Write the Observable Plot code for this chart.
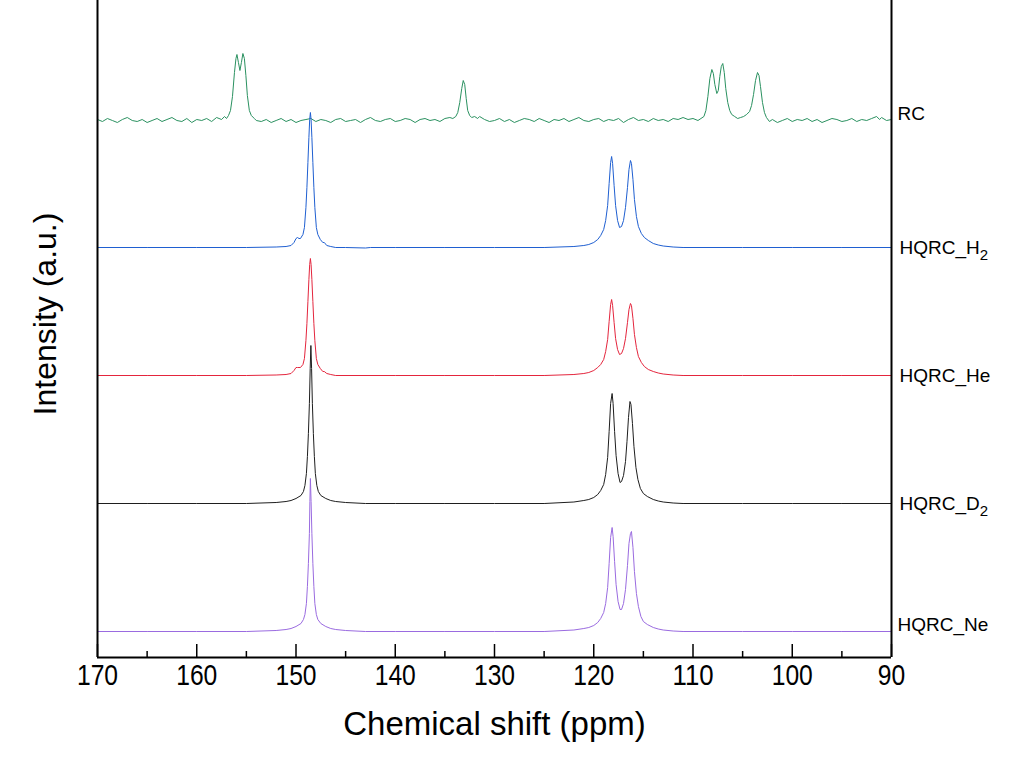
<!DOCTYPE html>
<html><head><meta charset="utf-8">
<script src="https://cdn.jsdelivr.net/npm/d3@7"></script>
<script src="https://cdn.jsdelivr.net/npm/@observablehq/plot@0.6"></script>
<style>body{margin:0;background:#fff} #chart{width:1028px;height:777px}</style>
</head><body><div id="chart"></div>
<script>
// Series (top to bottom)
const seriesNames = ["RC", "HQRC_H₂", "HQRC_He", "HQRC_D₂", "HQRC_Ne"];
const seriesColors = ["#2a9160", "#1f5fd1", "#e4253d", "#1e1e1e", "#9a6be0"];
const baselineOffsets = [537, 410, 282, 154, 26];

// [ppm, relative intensity]
const rcSpectrum = [[170,1],[169.5,-1],[169,2],[168.5,0],[168,-2],[167.5,1],[167,3],[166.5,0],[166,-1],[165.5,1],[165,-2],[164.5,0],[164,2],[163.5,-1],[163,1],[162.5,3],[162,0],[161.5,-1],[161,2],[160.5,-2],[160,1],[159.5,0],[159,2],[158.5,-1],[158,3],[157.5,1],[157.2,4],[157,2],[156.8,5],[156.6,10],[156.4,24],[156.2,48],[156.05,62],[155.95,66],[155.8,58],[155.65,50],[155.5,58],[155.35,67],[155.2,62],[155.05,45],[154.9,25],[154.7,10],[154.5,5],[154.2,2],[154,0],[153.5,-1],[153,1],[152.5,-2],[152,0],[151.5,2],[151,-1],[150.5,1],[150,-2],[149.5,0],[149,1],[148.5,2],[148,-1],[147.5,1],[147,0],[146.5,-2],[146,1],[145.5,2],[145,-1],[144.5,0],[144,1],[143.5,-2],[143,1],[142.5,3],[142,0],[141.5,-1],[141,1],[140.5,2],[140,-1],[139.5,0],[139,2],[138.5,1],[138,-2],[137.5,1],[137,2],[136.5,0],[136,1],[135.5,-1],[135,2],[134.5,3],[134.2,2],[133.9,4],[133.7,8],[133.5,18],[133.3,32],[133.15,40],[133,36],[132.85,22],[132.7,10],[132.5,5],[132.3,3],[132,4],[131.7,2],[131.5,4],[131,1],[130.5,-1],[130,0],[129.5,2],[129,-1],[128.5,1],[128,-2],[127.5,0],[127,2],[126.5,1],[126,-1],[125.5,2],[125,0],[124.5,-2],[124,1],[123.5,0],[123,2],[122.5,-1],[122,1],[121.5,3],[121,0],[120.5,-1],[120,1],[119.5,2],[119,-1],[118.5,1],[118,0],[117.5,2],[117,-2],[116.5,1],[116,3],[115.5,0],[115,1],[114.5,-1],[114,2],[113.5,0],[113,1],[112.5,-1],[112,2],[111.5,1],[111,3],[110.5,1],[110,2],[109.5,0],[109.2,2],[108.9,4],[108.7,10],[108.5,24],[108.3,42],[108.1,51],[107.95,47],[107.8,36],[107.6,27],[107.45,30],[107.3,44],[107.15,54],[107,57],[106.85,48],[106.7,32],[106.5,18],[106.3,10],[106.1,6],[105.8,4],[105.5,2],[105.2,3],[104.9,4],[104.6,6],[104.3,9],[104.1,15],[103.9,26],[103.7,40],[103.5,48],[103.35,45],[103.2,34],[103,18],[102.8,8],[102.6,3],[102.3,-1],[102,1],[101.5,-2],[101,0],[100.5,2],[100,-1],[99.5,1],[99,0],[98.5,2],[98,-1],[97.5,1],[97,-2],[96.5,0],[96,2],[95.5,1],[95,-1],[94.5,0],[94,2],[93.5,-1],[93,1],[92.5,0],[92,2],[91.5,4],[91.2,1],[91,3],[90.5,0],[90,1]];

const h2Spectrum = [[170,0],[165,0],[160,0],[155,0],[152,0.5],[151,1],[150.5,2],[150.2,5],[150,9],[149.85,10],[149.7,9],[149.55,9],[149.3,13],[149.15,20],[149,40],[148.9,60],[148.8,85],[148.7,110],[148.62,128],[148.55,135],[148.48,128],[148.4,110],[148.3,85],[148.2,60],[148.1,40],[147.95,20],[147.8,13],[147.55,8],[147.3,5],[147.15,5],[146.9,2],[146.5,1],[146,0],[145,0],[143,-0.5],[142.5,0],[140,0],[135,0],[130,0],[125,0],[122,1],[121,2],[120.5,3],[120,5],[119.6,8],[119.3,12],[119,18],[118.8,27],[118.6,42],[118.45,64],[118.3,85],[118.2,91],[118.1,84],[117.95,62],[117.8,42],[117.6,27],[117.4,20],[117.2,21],[117,27],[116.8,40],[116.6,60],[116.45,78],[116.3,87],[116.2,84],[116.05,68],[115.9,48],[115.7,31],[115.5,21],[115.2,14],[114.9,10],[114.5,7],[114,4],[113.5,2.5],[113,1.5],[112,0.5],[111,0],[105,0],[100,0],[95,0],[90,0]];

const heSpectrum = [[170,0],[165,0],[160,0],[155,0],[152,0.5],[151,1],[150.5,2],[150.2,5],[150,8],[149.85,8],[149.7,8],[149.55,8],[149.3,11],[149.15,17],[149,35],[148.9,52],[148.8,74],[148.7,96],[148.62,111],[148.55,117],[148.48,111],[148.4,96],[148.3,74],[148.2,52],[148.1,35],[147.95,17],[147.8,11],[147.55,7],[147.3,4],[147.15,4],[146.9,2],[146.5,1],[146,0],[140,0],[135,0],[130,0],[125,0],[122,1],[121,2],[120.5,3],[120,5],[119.6,8],[119.3,11],[119,16],[118.8,24],[118.6,36],[118.45,54],[118.3,71],[118.2,76],[118.1,70],[117.95,53],[117.8,37],[117.6,26],[117.4,21],[117.2,22],[117,27],[116.8,37],[116.6,53],[116.45,66],[116.3,72],[116.2,70],[116.05,57],[115.9,41],[115.7,28],[115.5,19],[115.2,13],[114.9,9],[114.5,6],[114,4],[113.5,2.5],[113,1.5],[112,0.5],[111,0],[105,0],[100,0],[95,0],[90,0]];

const d2Spectrum = [[170,0],[165,0],[160,0],[155,0],[152,1],[151,2],[150.5,3],[150,5],[149.5,8],[149.25,12],[149.1,18],[148.95,30],[148.85,47],[148.75,70],[148.65,100],[148.57,135],[148.5,158],[148.43,135],[148.35,100],[148.25,70],[148.15,47],[148.05,30],[147.9,18],[147.75,12],[147.5,8],[147,5],[146.5,3],[146,2],[145,1],[143,0],[140,0],[135,0],[130,0],[125,0],[122,1.5],[121,3],[120.5,4],[120,6],[119.6,9],[119.3,13],[119,19],[118.8,29],[118.6,46],[118.45,72],[118.3,100],[118.15,110],[118.05,100],[117.9,72],[117.75,48],[117.55,30],[117.35,21],[117.2,22],[117,28],[116.8,42],[116.65,62],[116.5,86],[116.35,102],[116.25,99],[116.1,80],[115.95,57],[115.75,36],[115.55,24],[115.3,15],[115,10],[114.6,7],[114,4],[113.5,2.5],[113,1.5],[112,0.5],[111,0],[105,0],[100,0],[95,0],[90,0]];

const neSpectrum = [[170,0],[165,0],[160,0],[155,0],[152,1],[151,2],[150.5,3],[150,5],[149.5,8],[149.25,12],[149.1,17],[148.95,28],[148.85,45],[148.75,68],[148.65,98],[148.6,130],[148.55,153],[148.48,130],[148.4,98],[148.3,68],[148.2,45],[148.1,28],[147.95,17],[147.8,12],[147.5,8],[147,5],[146.5,3],[146,2],[145,1],[143,0],[140,0],[135,0],[130,0],[125,0],[122,1.5],[121,3],[120.5,4],[120,6],[119.6,9],[119.3,13],[119,19],[118.8,28],[118.6,44],[118.45,68],[118.3,94],[118.15,104],[118.05,95],[117.9,70],[117.75,47],[117.55,30],[117.35,22],[117.2,22],[117,28],[116.8,42],[116.6,66],[116.45,88],[116.3,98],[116.2,100],[116.05,84],[115.9,60],[115.7,38],[115.5,25],[115.25,15],[115,10],[114.6,7],[114,4],[113.5,2.5],[113,1.5],[112,0.5],[111,0],[105,0],[100,0],[95,0],[90,0]];

const majorTicks = [170, 160, 150, 140, 130, 120, 110, 100, 90];
const minorTicks = [165, 155, 145, 135, 125, 115, 105, 95];
const xTitle = "Chemical shift (ppm)";
const yTitle = "Intensity (a.u.)";

const spectra = [rcSpectrum, h2Spectrum, heSpectrum, d2Spectrum, neSpectrum];
const rows = spectra.flatMap((s, i) => s.map(([ppm, v]) => ({series: seriesNames[i], ppm, intensity: baselineOffsets[i] + v})));
const labelRows = seriesNames.map((name, i) => ({name, y: baselineOffsets[i], edge: i === 0 || i === 4}));

const sans = "'Liberation Sans',Arial,sans-serif";

const chart = Plot.plot({
  width: 1028, height: 777,
  marginTop: 0, marginLeft: 97, marginRight: 137, marginBottom: 120,
  style: {background: "#fff", fontFamily: sans},
  x: {domain: [170, 90], axis: null},
  y: {domain: [0, 657], axis: null},
  color: {domain: seriesNames, range: seriesColors},
  marks: [
    Plot.line(rows, {x: "ppm", y: "intensity", z: "series", stroke: "series", strokeWidth: 1}),
    Plot.ruleX(majorTicks, {y1: 0, y2: 13, stroke: "#000", strokeWidth: 1.5}),
    Plot.ruleX(minorTicks, {y1: 0, y2: 6, stroke: "#000", strokeWidth: 1.5}),
    Plot.ruleX([170, 90], {stroke: "#000", strokeWidth: 2}),
    Plot.ruleY([0], {stroke: "#000", strokeWidth: 2}),
    Plot.text(majorTicks, {x: d => d, frameAnchor: "bottom", dy: 27, text: d => String(d), fontSize: 30, fill: "#000", ariaLabel: "tick-labels"}),
    Plot.text([xTitle], {frameAnchor: "bottom", dy: 77, fontSize: 33, fill: "#000"}),
    Plot.text([yTitle], {frameAnchor: "left", textAnchor: "middle", dx: -52, dy: -15, rotate: -90, fontSize: 32, fill: "#000"}),
    Plot.text(labelRows.filter(d => d.edge), {x: 90, y: "y", text: "name", dx: 6, dy: -7, textAnchor: "start", fontSize: 19, fill: "#000"}),
    Plot.text(labelRows.filter(d => !d.edge), {x: 90, y: "y", text: "name", dx: 8, textAnchor: "start", fontSize: 19, fill: "#000"})
  ]
});
document.getElementById("chart").appendChild(chart);

// Narrow (condensed) tick numerals, as in the reference
d3.select(chart).selectAll("text").each(function() {
  const t = this.textContent;
  if (/^\d+$/.test(t)) {
    this.setAttribute("textLength", (t.length * 13.7).toFixed(1));
    this.setAttribute("lengthAdjust", "spacingAndGlyphs");
  }
  // true subscript for H2 / D2 labels
  if (t.includes("₂")) {
    const base = t.replace("₂", "");
    this.textContent = base;
    const sub = document.createElementNS("http://www.w3.org/2000/svg", "tspan");
    sub.setAttribute("dy", "6");
    sub.setAttribute("font-size", "15");
    sub.textContent = "2";
    this.appendChild(sub);
  }
});
</script></body></html>
